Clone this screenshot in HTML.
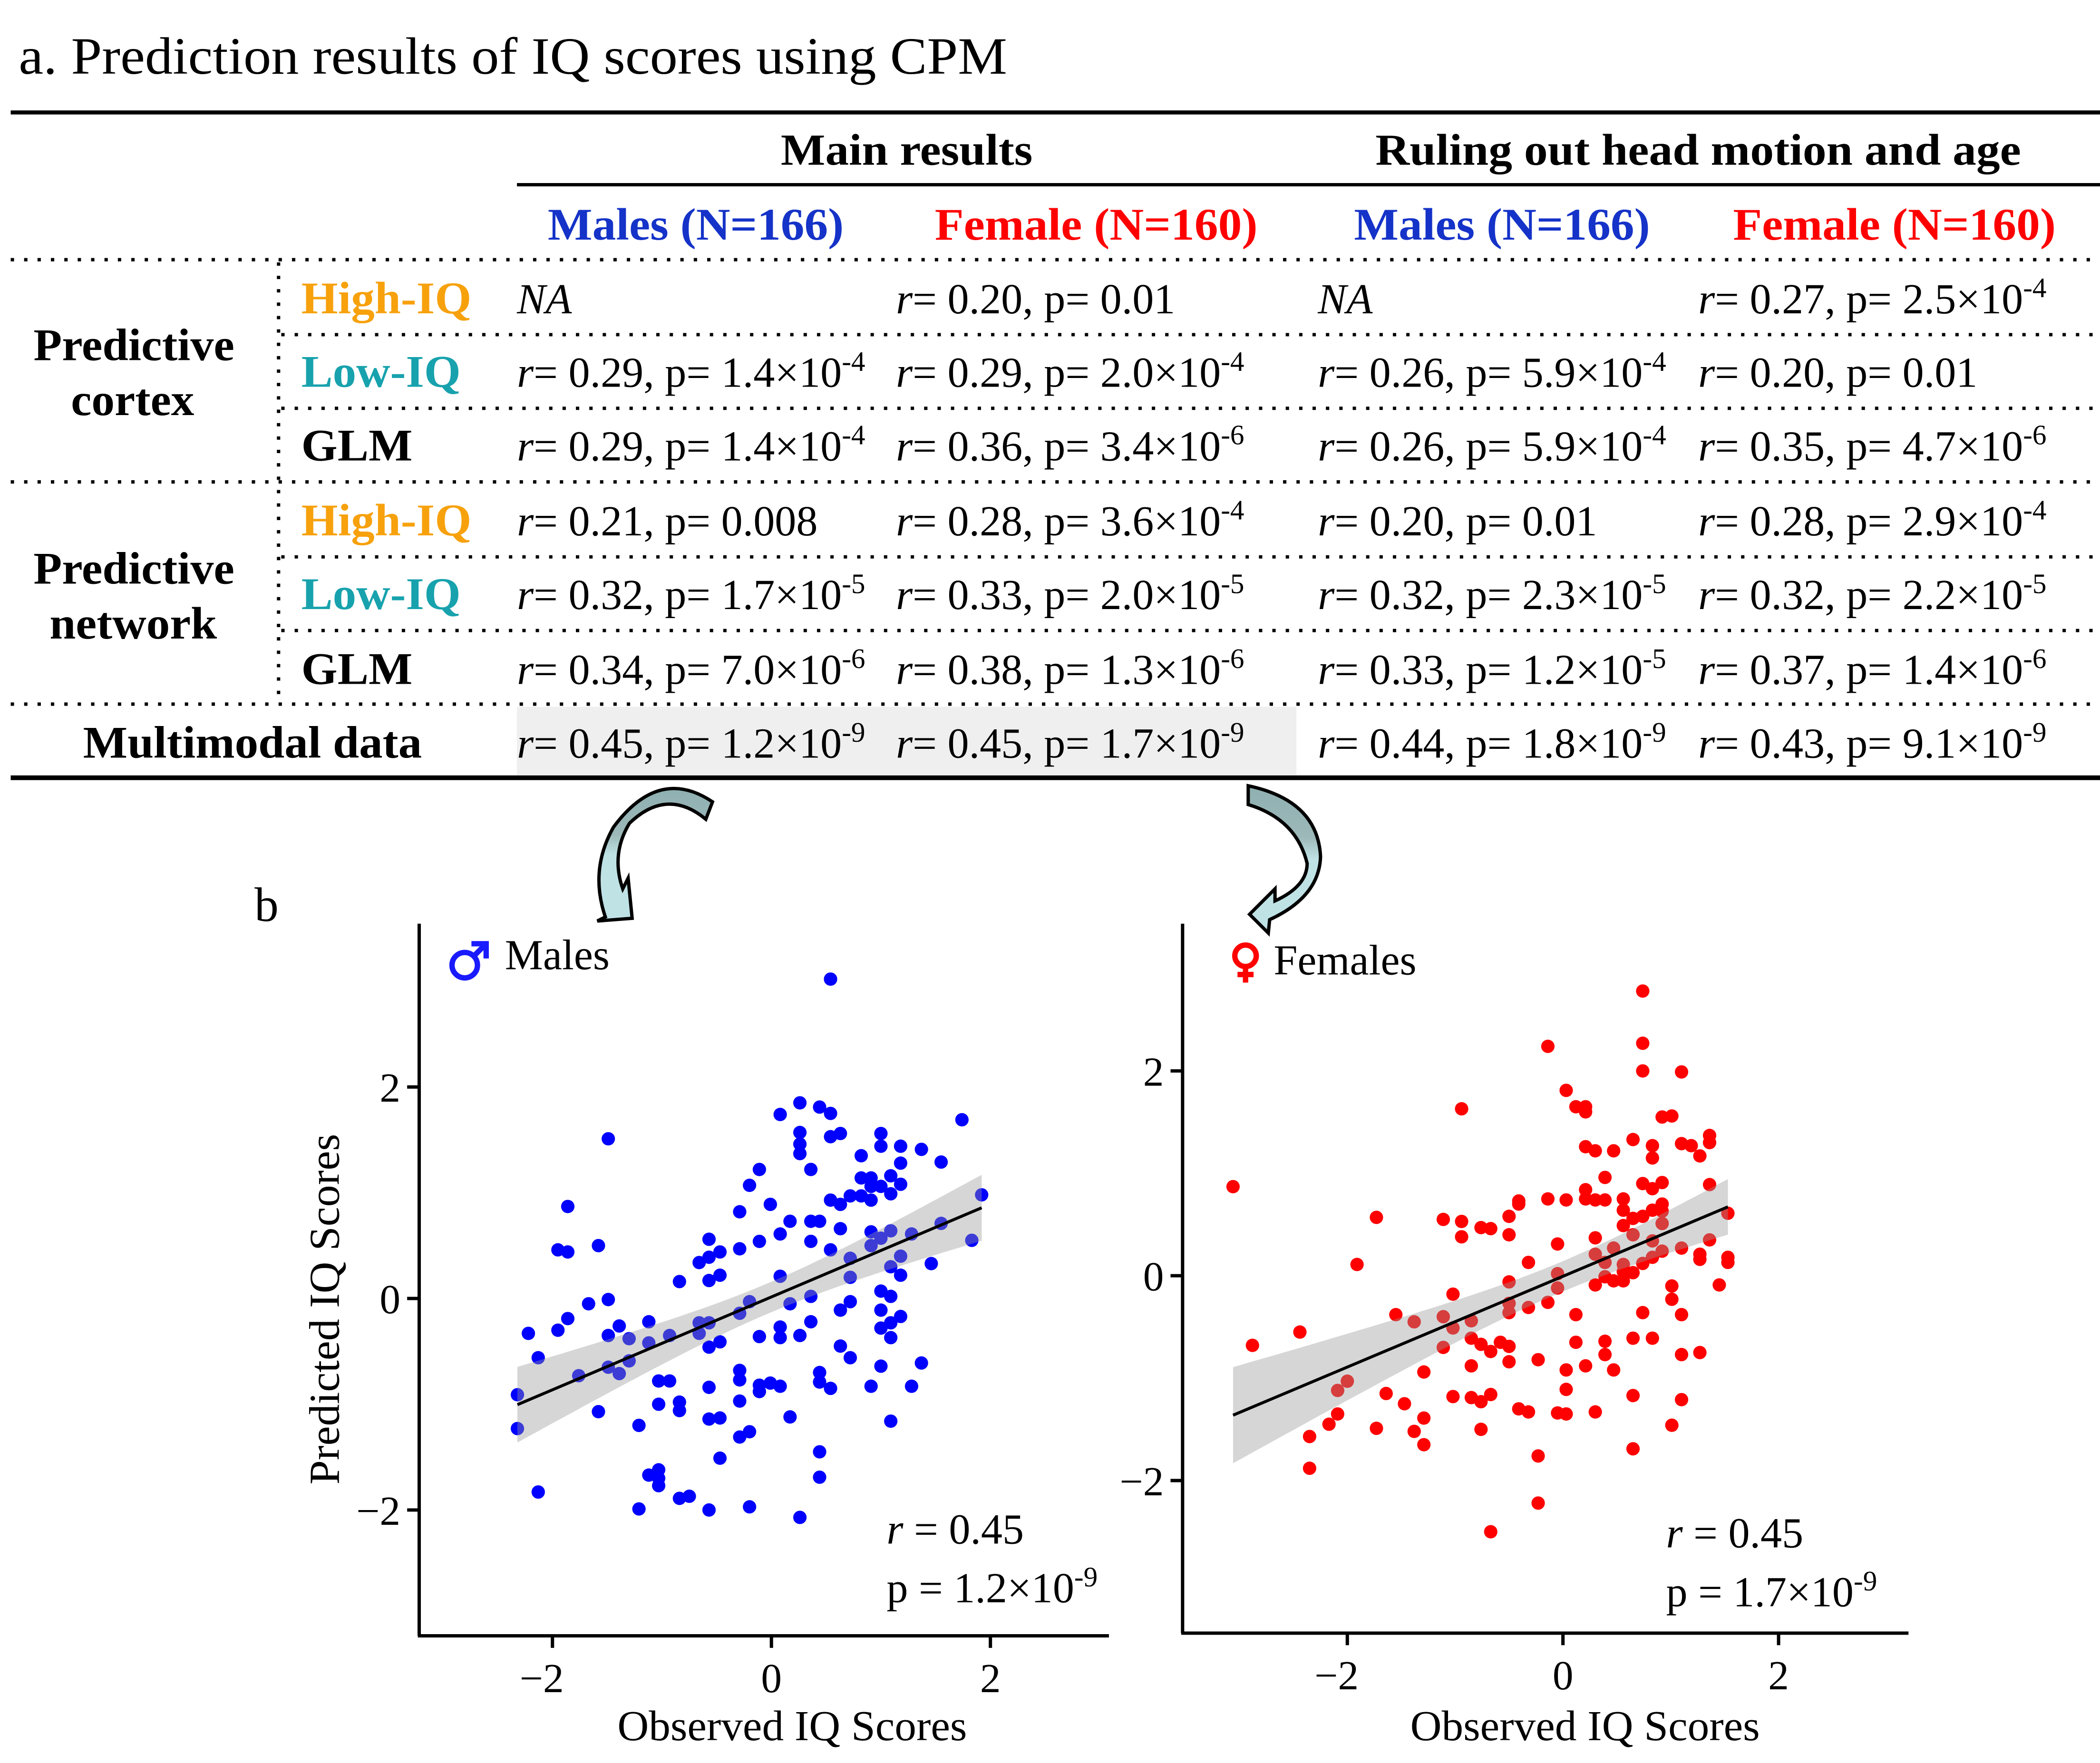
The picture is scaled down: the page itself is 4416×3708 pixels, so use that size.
<!DOCTYPE html>
<html><head><meta charset="utf-8"><style>
html,body{margin:0;padding:0;background:#fff;}
svg{display:block;}
text{font-family:"Liberation Serif","DejaVu Serif",serif;}
</style></head><body>
<svg id="fig" width="4416" height="3708" viewBox="0 0 1568 1317" preserveAspectRatio="none" xmlns="http://www.w3.org/2000/svg">
<defs>
<linearGradient id="ag" x1="0" y1="0" x2="0" y2="1"><stop offset="0" stop-color="#8fb0b1"/><stop offset="0.35" stop-color="#9db8b9"/><stop offset="0.5" stop-color="#bfe2e5"/><stop offset="1" stop-color="#bfe2e5"/></linearGradient>
</defs>
<text x="14" y="55" font-size="39" textLength="738" lengthAdjust="spacingAndGlyphs">a. Prediction results of IQ scores using CPM</text>
<line x1="8" y1="84" x2="1568" y2="84" stroke="#000" stroke-width="3"/>
<text x="583" y="123" font-size="33" font-weight="bold" textLength="188" lengthAdjust="spacingAndGlyphs">Main results</text>
<text x="1027" y="123" font-size="33" font-weight="bold" textLength="482" lengthAdjust="spacingAndGlyphs">Ruling out head motion and age</text>
<line x1="386" y1="138" x2="1568" y2="138" stroke="#000" stroke-width="2.5"/>
<g font-size="34" font-weight="bold" lengthAdjust="spacingAndGlyphs">
<text x="409" y="179" fill="#1533c8" textLength="221" lengthAdjust="spacingAndGlyphs">Males (N=166)</text>
<text x="698" y="179" fill="#f00" textLength="241" lengthAdjust="spacingAndGlyphs">Female (N=160)</text>
<text x="1011" y="179" fill="#1533c8" textLength="221" lengthAdjust="spacingAndGlyphs">Males (N=166)</text>
<text x="1294" y="179" fill="#f00" textLength="241" lengthAdjust="spacingAndGlyphs">Female (N=160)</text>
</g>
<rect x="386" y="528" width="582" height="51" fill="#efefef"/>
<g stroke="#000" stroke-width="2.5" stroke-dasharray="2.5,7.5">
<line x1="8" y1="194" x2="1568" y2="194"/>
<line x1="210" y1="250" x2="1568" y2="250"/>
<line x1="210" y1="305" x2="1568" y2="305"/>
<line x1="8" y1="360" x2="1568" y2="360"/>
<line x1="210" y1="416" x2="1568" y2="416"/>
<line x1="210" y1="471" x2="1568" y2="471"/>
<line x1="8" y1="526" x2="1568" y2="526"/>
<line x1="208" y1="196" x2="208" y2="526"/>
</g>
<line x1="8" y1="581" x2="1568" y2="581" stroke="#000" stroke-width="3.5"/>
<g font-size="34" font-weight="bold">
<text x="25" y="269" textLength="150" lengthAdjust="spacingAndGlyphs">Predictive</text>
<text x="53" y="310" textLength="92" lengthAdjust="spacingAndGlyphs">cortex</text>
<text x="25" y="436" textLength="150" lengthAdjust="spacingAndGlyphs">Predictive</text>
<text x="37" y="477" textLength="125" lengthAdjust="spacingAndGlyphs">network</text>
<text x="62" y="566" textLength="253" lengthAdjust="spacingAndGlyphs">Multimodal data</text>
</g>
<g font-size="34" font-weight="bold">
<text x="225" y="234" fill="#f7a10c" textLength="127" lengthAdjust="spacingAndGlyphs">High-IQ</text>
<text x="225" y="289" fill="#17a2ad" textLength="119" lengthAdjust="spacingAndGlyphs">Low-IQ</text>
<text x="225" y="344" textLength="83" lengthAdjust="spacingAndGlyphs">GLM</text>
<text x="225" y="400" fill="#f7a10c" textLength="127" lengthAdjust="spacingAndGlyphs">High-IQ</text>
<text x="225" y="455" fill="#17a2ad" textLength="119" lengthAdjust="spacingAndGlyphs">Low-IQ</text>
<text x="225" y="511" textLength="83" lengthAdjust="spacingAndGlyphs">GLM</text>
</g>
<g id="cells" font-size="32"></g>

<path d="M 532 599 Q 492 572 458 618 Q 440 650 452 685 L 446 688 L 472 686 L 469 656 L 465 664 Q 456 638 470 615 Q 498 588 527 612 Z" fill="url(#ag)" stroke="#000" stroke-width="2.5" stroke-linejoin="miter"/>
<path d="M 932 587 L 932 601 Q 968 612 976 645 Q 976 662 952 673 L 952 664 L 933 683 L 947 697 L 948 687 Q 985 670 986 640 Q 984 598 932 587 Z" fill="url(#ag)" stroke="#000" stroke-width="2.5"/>

<text x="190" y="688" font-size="36">b</text>

<g stroke="#1a1aff" stroke-width="4" fill="none">
<circle cx="347" cy="721" r="9.5"/>
<line x1="354" y1="714" x2="363" y2="705"/>
<polyline points="352,705 363,705 363,716"/>
</g>
<g stroke="#ff0000" stroke-width="4" fill="none">
<circle cx="930" cy="714" r="8"/>
<line x1="930" y1="722" x2="930" y2="734"/>
<line x1="924" y1="728" x2="936" y2="728"/>
</g>

<g id="males-plot"></g>
<g id="females-plot"></g>
<text transform="translate(253,978) rotate(-90)" font-size="32" text-anchor="middle" textLength="262" lengthAdjust="spacingAndGlyphs">Predicted IQ Scores</text>
<text x="461" y="1300" font-size="32" textLength="261" lengthAdjust="spacingAndGlyphs">Observed IQ Scores</text>
<text x="1053" y="1300" font-size="32" textLength="261" lengthAdjust="spacingAndGlyphs">Observed IQ Scores</text>
</svg>
<script>
const NS="http://www.w3.org/2000/svg";
// table data
const rowNames=["cortex-high","cortex-low","cortex-glm","network-high","network-low","network-glm","multimodal"];
const colXs=[386,669,984,1268];
const cellR=[["NA","0.20","NA","0.27"],["0.29","0.29","0.26","0.20"],["0.29","0.36","0.26","0.35"],["0.21","0.28","0.20","0.28"],["0.32","0.33","0.32","0.32"],["0.34","0.38","0.33","0.37"],["0.45","0.45","0.44","0.43"]];
const cellP=[["","0.01","","2.5"],["1.4","2.0","5.9","0.01"],["1.4","3.4","5.9","4.7"],["0.008","3.6","0.01","2.9"],["1.7","2.0","2.3","2.2"],["7.0","1.3","1.2","1.4"],["1.2","1.7","1.8","9.1"]];
const cellE=[["","","","-4"],["-4","-4","-4",""],["-4","-6","-4","-6"],["","-4","","-4"],["-5","-5","-5","-5"],["-6","-6","-5","-6"],["-9","-9","-9","-9"]];
const rowYs=[234,289,344,400,455,511,566];

const cells=document.getElementById('cells');
for(let i=0;i<rowYs.length;i++){for(let j=0;j<4;j++){
  const t=document.createElementNS(NS,'text');
  
  
  t.setAttribute('x',colXs[j]);t.setAttribute('y',rowYs[i]);
  if(cellR[i][j]==="NA"){t.setAttribute('font-style','italic');t.textContent="NA";}
  else{
    let h='<tspan font-style="italic">r</tspan>= '+cellR[i][j]+', p= '+cellP[i][j];
    if(cellE[i][j]) h+='×10<tspan dy="-12" font-size="21">'+cellE[i][j]+'</tspan>';
    t.innerHTML=h;
  }
  cells.appendChild(t);
}}

// scatter data
const maleX=[0.54,0.26,0.08,0.44,0.54,-1.49,0.26,0.26,0.26,0.54,0.63,1.00,1.00,1.18,1.37,1.74,0.82,1.18,1.55,0.36,-0.11,-0.20,0.82,0.91,1.09,1.18,0.91,1.00,0.72,0.82,0.91,1.09,0.54,0.63,1.92,-1.86,-0.01,-0.29,0.17,0.36,0.44,0.63,1.55,0.91,1.09,1.00,1.28,0.08,-0.11,0.36,-0.57,1.83,-1.95,-1.86,-1.58,-0.29,0.54,0.91,-0.57,-0.47,-0.66,0.72,1.18,1.46,1.09,0.08,0.72,1.18,-0.47,-0.57,-0.84,1.00,1.09,-1.67,-1.49,0.36,0.17,-0.20,0.72,0.63,1.00,-0.29,-1.86,-1.12,0.36,-0.66,-0.57,1.18,1.09,0.08,-1.39,-2.22,-1.95,-1.49,-1.30,-0.93,-0.66,-1.12,1.00,1.09,-0.11,0.08,0.26,-0.47,-0.57,0.63,-2.13,0.72,-1.30,-1.49,-1.39,-1.76,1.37,1.00,-0.29,-0.29,0.44,0.44,-1.03,-0.93,-0.11,-0.01,0.08,-0.11,0.54,0.91,1.28,-0.57,-2.32,-1.03,-0.84,-0.84,-0.29,-1.58,0.17,-0.57,-0.47,-1.21,1.09,-2.32,-0.29,-0.20,-0.47,0.44,-1.12,-1.03,-1.03,0.44,-2.13,-0.84,-0.75,-1.21,-0.57,-0.20,0.26,-1.03];
const maleY=[3.02,1.85,1.74,1.81,1.75,1.51,1.57,1.46,1.37,1.53,1.56,1.56,1.44,1.44,1.41,1.69,1.35,1.28,1.29,1.22,1.22,1.07,1.14,1.14,1.16,1.08,1.06,1.06,0.97,0.97,0.93,0.99,0.93,0.89,0.98,0.87,0.89,0.82,0.73,0.73,0.73,0.66,0.71,0.63,0.64,0.57,0.61,0.61,0.54,0.54,0.56,0.55,0.46,0.44,0.50,0.47,0.46,0.50,0.39,0.44,0.34,0.38,0.40,0.33,0.30,0.21,0.20,0.22,0.22,0.17,0.16,0.07,0.02,-0.05,-0.01,0.02,-0.05,-0.03,-0.03,-0.11,-0.11,-0.14,-0.19,-0.22,-0.22,-0.23,-0.23,-0.17,-0.23,-0.27,-0.26,-0.33,-0.30,-0.35,-0.38,-0.35,-0.33,-0.42,-0.28,-0.37,-0.36,-0.37,-0.35,-0.41,-0.46,-0.45,-0.56,-0.56,-0.59,-0.65,-0.71,-0.73,-0.61,-0.64,-0.68,-0.77,-0.70,-0.79,-0.78,-0.78,-0.82,-0.80,-0.83,-0.88,-0.85,-0.83,-0.83,-0.84,-0.91,-1.00,-0.98,-1.06,-0.97,-1.07,-1.12,-1.14,-1.13,-1.20,-1.16,-1.23,-1.31,-1.26,-1.51,-1.45,-1.67,-1.62,-1.77,-1.69,-1.83,-1.89,-1.87,-1.99,-2.00,-1.97,-2.07,-1.70];
const femaleX=[0.74,-0.14,0.74,0.74,1.10,0.03,-0.94,0.12,0.21,0.21,0.92,1.01,0.65,0.83,1.10,1.19,1.36,1.36,0.21,0.30,0.47,1.27,0.83,0.39,-3.06,0.74,0.83,0.92,1.36,0.21,0.21,0.30,0.39,0.56,-0.14,0.03,-0.41,0.92,0.56,0.83,0.92,-1.73,-1.11,-0.94,-0.50,-0.76,-0.67,-0.94,-0.50,0.65,0.74,0.56,0.92,1.53,0.30,0.65,0.83,-0.05,1.36,1.10,0.47,0.92,0.30,0.83,1.27,1.27,1.53,1.53,-1.91,-0.32,0.39,0.56,0.74,0.39,0.47,0.56,0.65,0.56,-0.05,-0.50,0.30,1.45,-0.05,1.01,-1.02,1.01,-0.14,-0.50,-0.32,-0.50,0.74,-1.55,0.12,1.10,-1.11,-1.38,-0.85,-1.02,-2.44,-2.88,-0.85,0.65,0.83,-0.76,-0.58,-0.50,-0.67,0.12,0.39,-1.11,0.39,1.10,1.27,-0.50,-0.23,-0.85,0.21,0.03,0.47,-1.29,-2.00,-2.09,0.03,-1.64,-1.02,-0.85,-0.76,-0.67,0.65,1.10,-1.47,-0.41,-0.32,-0.05,0.03,0.30,-2.09,-1.29,-2.17,1.01,-1.73,-1.38,-0.76,-2.35,-1.29,0.65,-0.23,-2.35,-0.23,-0.67,-0.41];
const femaleY=[2.78,2.24,2.27,2.00,1.99,1.81,1.63,1.65,1.65,1.60,1.55,1.56,1.33,1.27,1.29,1.27,1.37,1.30,1.26,1.22,1.22,1.17,1.15,0.96,0.87,0.90,0.85,0.91,0.89,0.84,0.75,0.74,0.74,0.75,0.75,0.74,0.73,0.70,0.64,0.64,0.63,0.57,0.55,0.53,0.58,0.47,0.46,0.38,0.40,0.56,0.58,0.49,0.51,0.61,0.37,0.40,0.34,0.31,0.35,0.27,0.27,0.24,0.21,0.18,0.21,0.16,0.18,0.13,0.11,0.13,0.13,0.11,0.12,-0.01,-0.05,-0.05,0.03,0.04,0.02,-0.06,-0.09,-0.09,-0.12,-0.10,-0.18,-0.23,-0.26,-0.27,-0.31,-0.36,-0.36,-0.38,-0.38,-0.38,-0.40,-0.45,-0.44,-0.51,-0.55,-0.68,-0.61,-0.61,-0.61,-0.67,-0.65,-0.69,-0.74,-0.65,-0.64,-0.70,-0.77,-0.77,-0.75,-0.84,-0.82,-0.88,-0.88,-0.92,-0.92,-0.94,-1.03,-1.12,-1.11,-1.15,-1.18,-1.19,-1.23,-1.16,-1.17,-1.21,-1.25,-1.30,-1.33,-1.34,-1.35,-1.33,-1.35,-1.39,-1.45,-1.46,-1.49,-1.52,-1.50,-1.57,-1.65,-1.69,-1.76,-1.88,-2.22,-2.50,0.70];
const yTicks=[-2,0,2];
const xTicks=[-2,0,2];
const tickLabels=["\u22122","0","2"];
const maleStats=["0.45","1.2","-9"];
const femaleStats=["0.45","1.7","-9"];

function el(tag,attrs,parent){const e=document.createElementNS(NS,tag);for(const k in attrs)e.setAttribute(k,attrs[k]);parent.appendChild(e);return e;}

function drawPlot(g,xs,ys,cfg){
  const sx=v=>cfg.x0+v*cfg.kx, sy=v=>cfg.y0-v*cfg.ky;
  const ya=el('line',{x1:cfg.left,y1:cfg.top,x2:cfg.left,y2:cfg.bottom,stroke:'#000','stroke-width':2.5},g);
  
  
  const xa=el('line',{x1:cfg.left-1,y1:cfg.bottom,x2:cfg.right,y2:cfg.bottom,stroke:'#000','stroke-width':2.5},g);
  
  
  yTicks.forEach((v,i)=>{
    const tk=el('line',{x1:cfg.left-9,x2:cfg.left,y1:sy(v),y2:sy(v),stroke:'#000','stroke-width':2.5},g);
    
    
    const tl=el('text',{x:cfg.left-14,y:sy(v)+11,'font-size':31,'text-anchor':'end','font-family':'Liberation Sans, Arial, sans-serif'},g);
    
    
    tl.textContent=tickLabels[i];
  });
  xTicks.forEach((v,i)=>{
    const tk=el('line',{x1:sx(v),x2:sx(v),y1:cfg.bottom,y2:cfg.bottom+9,stroke:'#000','stroke-width':2.5},g);
    
    
    const tl=el('text',{x:sx(v)-(i===0?8:0),y:cfg.bottom+42,'font-size':31,'text-anchor':'middle','font-family':'Liberation Sans, Arial, sans-serif'},g);
    
    
    tl.textContent=tickLabels[i];
  });
  for(let i=0;i<xs.length;i++){
    const c=el('circle',{cx:sx(xs[i]),cy:sy(ys[i]),r:5,fill:cfg.color},g);
    
    
  }
  const n=xs.length;let mx=0,my=0;for(let i=0;i<n;i++){mx+=xs[i];my+=ys[i];}mx/=n;my/=n;
  let sxx=0,sxy=0;for(let i=0;i<n;i++){sxx+=(xs[i]-mx)**2;sxy+=(xs[i]-mx)*(ys[i]-my);}
  const b=sxy/sxx,a=my-b*mx;let sse=0;for(let i=0;i<n;i++)sse+=(ys[i]-a-b*xs[i])**2;
  const s=Math.sqrt(sse/(n-2));
  const xmin=Math.min(...xs),xmax=Math.max(...xs);
  let up=[],lo=[];
  for(let k=0;k<=40;k++){const x=xmin+(xmax-xmin)*k/40;const f=a+b*x;const w=1.975*s*Math.sqrt(1/n+(x-mx)**2/sxx);
    up.push(sx(x).toFixed(1)+','+sy(f+w).toFixed(1));lo.unshift(sx(x).toFixed(1)+','+sy(f-w).toFixed(1));}
  const band=el('polygon',{points:up.concat(lo).join(' '),fill:'#999','fill-opacity':0.4},g);
  
  
  const ln=el('line',{x1:sx(xmin),y1:sy(a+b*xmin),x2:sx(xmax),y2:sy(a+b*xmax),stroke:'#000','stroke-width':2.2},g);
  
  
  const lg=el('text',{x:cfg.labX,y:cfg.legY,'font-size':32},g);
  
  
  lg.textContent=cfg.label;
  const r=el('text',{x:cfg.statX,y:cfg.statY,'font-size':32},g);
  
  
  r.innerHTML='<tspan font-style="italic">r</tspan> = '+cfg.stats[0];
  const p=el('text',{x:cfg.statX,y:cfg.statY+44,'font-size':32},g);
  
  
  p.innerHTML='p = '+cfg.stats[1]+'×10<tspan dy="-12" font-size="21">'+cfg.stats[2]+'</tspan>';
}
drawPlot(document.getElementById('males-plot'),maleX,maleY,{x0:576,kx:81.75,y0:970,ky:79,left:313,right:828,top:690,bottom:1222,color:'#0000ff',labX:377,legY:724,label:'Males',stats:maleStats,statX:662,statY:1153});
drawPlot(document.getElementById('females-plot'),femaleX,femaleY,{x0:1167,kx:80.5,y0:953,ky:76.5,left:883,right:1425,top:690,bottom:1220,color:'#ff0000',labX:951,legY:728,label:'Females',stats:femaleStats,statX:1244,statY:1156});
</script>
</body></html>
